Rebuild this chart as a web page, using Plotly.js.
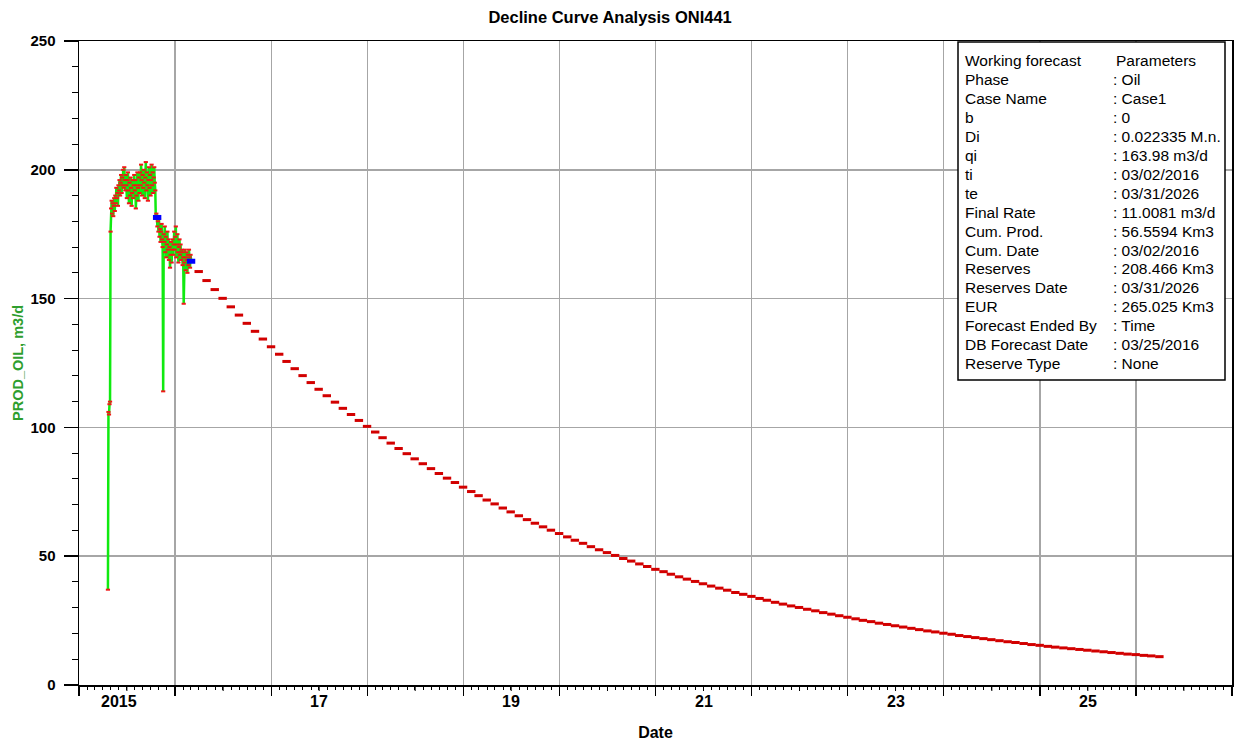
<!DOCTYPE html>
<html>
<head>
<meta charset="utf-8">
<script src="https://cdn.plot.ly/plotly-3.0.1.min.js"></script>
<style>
  html, body { margin: 0; padding: 0; background: #fff; }
  #chart { width: 1235px; height: 742px; }
</style>
</head>
<body>
<div id="chart"></div>
<script>
// ---- Historical daily production (sampled every 2 days from the first day on) ----
const histStart = '2015-04-21';
const histStepDays = 2;
const histRates = [
  37, 106, 105, 109, 110,
  176, 185, 188, 183, 187, 182, 186, 189,
  184, 190, 187, 193, 189, 191, 186, 194,
  192, 196, 190, 195, 198, 191, 197, 194, 200, 193,
  201, 196, 192, 198, 194, 189, 196, 199, 192, 187,
  195, 190, 197, 193, 186, 191, 196, 189, 194, 198,
  192, 196, 185, 190, 194, 199, 193, 188, 197, 191,
  199, 194, 202, 196, 190, 198, 193, 200, 195, 189,
  197, 203, 192, 199, 194, 188, 196, 201, 193, 198,
  190, 196, 202, 194, 199, 191, 197, 201, 195, 192,
  181, 183, 182, 178, 180, 176, 181, 174, 177, 172,
  176, 179, 173, 170,
  114,
  175, 172, 178, 168, 174, 166, 171, 176, 169, 173,
  165, 170, 162, 167, 172, 164, 169, 173, 167, 171,
  176, 169, 174, 178, 166, 171, 175, 168, 164, 170,
  173, 167, 171, 165, 169, 168, 163, 166,
  148,
  164, 169, 166, 161, 168, 165, 160, 167, 163, 169, 166, 162, 167, 165
];

// ---- Fit-range end points ----
const fitDates = ['2015-10-25', '2016-03-02'];
const fitRates = [181.5, 164.5];

// ---- Monthly forecast (month-end values, Mar 2016 .. Mar 2026) ----
const forecastFirstMonth = { year: 2016, month: 3 };
const forecastRates = [
  160.5, 157.0, 153.5, 150.1, 146.8, 143.6, 140.4, 137.3, 134.3, 131.3,
  128.4, 125.6, 122.8, 120.1, 117.4, 114.8, 112.3, 109.8, 107.4, 105.0,
  102.7, 100.4, 98.2, 96.0, 93.9, 91.8, 89.8, 87.8, 85.9, 84.0,
  82.1, 80.3, 78.6, 76.8, 75.1, 73.5, 71.8, 70.3, 68.7, 67.2,
  65.7, 64.2, 62.8, 61.4, 60.1, 58.8, 57.5, 56.2, 55.0, 53.7,
  52.5, 51.4, 50.3, 49.1, 48.1, 47.0, 46.0, 44.9, 44.0, 43.0,
  42.0, 41.1, 40.2, 39.3, 38.4, 37.6, 36.8, 35.9, 35.2, 34.4,
  33.6, 32.9, 32.1, 31.4, 30.7, 30.1, 29.4, 28.8, 28.1, 27.5,
  26.9, 26.3, 25.7, 25.1, 24.6, 24.0, 23.5, 23.0, 22.5, 22.0,
  21.5, 21.0, 20.6, 20.1, 19.7, 19.2, 18.8, 18.4, 18.0, 17.6,
  17.2, 16.8, 16.5, 16.1, 15.7, 15.4, 15.0, 14.7, 14.4, 14.1,
  13.8, 13.5, 13.2, 12.9, 12.6, 12.3, 12.0, 11.8, 11.5, 11.3,
  11.0
];

// ---- Axis labels ----
const yearLabels = ['2015', '17', '19', '21', '23', '25'];
const yearLabelYears = [2015, 2017, 2019, 2021, 2023, 2025];

// ---- Parameter panel ----
const paramLabels = [
  'Working forecast', 'Phase', 'Case Name', 'b', 'Di', 'qi', 'ti', 'te',
  'Final Rate', 'Cum. Prod.', 'Cum. Date', 'Reserves', 'Reserves Date',
  'EUR', 'Forecast Ended By', 'DB Forecast Date', 'Reserve Type'
];
const paramValues = [
  'Parameters', ': Oil', ': Case1', ': 0', ': 0.022335 M.n.', ': 163.98 m3/d',
  ': 03/02/2016', ': 03/31/2026', ': 11.0081 m3/d', ': 56.5594 Km3',
  ': 03/02/2016', ': 208.466 Km3', ': 03/31/2026', ': 265.025 Km3',
  ': Time', ': 03/25/2016', ': None'
];

const FONT = '"Liberation Sans", Arial, Helvetica, sans-serif';

function isoDay(d) { return d.toISOString().slice(0, 10); }

const histDates = histRates.map((_, i) => {
  const d = new Date(histStart + 'T00:00:00Z');
  d.setUTCDate(d.getUTCDate() + i * histStepDays);
  return isoDay(d);
});

const forecastDates = forecastRates.map((_, k) =>
  isoDay(new Date(Date.UTC(forecastFirstMonth.year, forecastFirstMonth.month + k, 0)))
);

const traces = [
  {
    type: 'scatter', mode: 'lines+markers', x: histDates, y: histRates,
    line: { color: '#10ea10', width: 2.5 },
    marker: { symbol: 'line-ew', size: 3, color: '#f01818', line: { color: '#f01818', width: 2 } },
    hoverinfo: 'x+y'
  },
  {
    type: 'scatter', mode: 'markers', x: forecastDates, y: forecastRates,
    marker: { symbol: 'line-ew', size: 6, color: '#d20000', line: { color: '#d20000', width: 3 } },
    hoverinfo: 'x+y'
  },
  {
    type: 'scatter', mode: 'markers', x: fitDates, y: fitRates,
    marker: { symbol: 'line-ew', size: 6, color: '#0000ff', line: { color: '#0000ff', width: 5 } },
    hoverinfo: 'x+y'
  }
];

// plot area in pixels
const PL = 79, PR = 1232, PT = 41, PB = 685;
const px2x = p => (p - PL) / (PR - PL);
const px2y = p => (PB - p) / (PB - PT);

const annotations = [];
yearLabels.forEach((t, i) => {
  annotations.push({
    text: t, x: yearLabelYears[i] + '-07-02', xref: 'x', y: 0, yref: 'paper',
    xanchor: 'center', yanchor: 'top', yshift: -6, xshift: t.length > 2 ? -8 : 0,
    showarrow: false,
    font: { family: FONT, size: 16, color: '#000', weight: 'bold' }
  });
});

const rowTop = 61, rowGap = 18.9;
paramLabels.forEach((t, i) => {
  const yy = px2y(rowTop + i * rowGap);
  annotations.push({
    text: t, x: px2x(963), xref: 'paper', y: yy, yref: 'paper',
    xanchor: 'left', yanchor: 'middle', showarrow: false,
    font: { family: FONT, size: 15.5, color: '#000' }
  });
  annotations.push({
    text: paramValues[i], x: px2x(i === 0 ? 1114 : 1111), xref: 'paper', y: yy, yref: 'paper',
    xanchor: 'left', yanchor: 'middle', showarrow: false,
    font: { family: FONT, size: 15.5, color: '#000' }
  });
});

const shapes = [
  {
    type: 'rect', xref: 'paper', yref: 'paper',
    x0: px2x(958), x1: px2x(1225), y0: px2y(380), y1: px2y(42),
    fillcolor: '#ffffff', line: { color: '#000', width: 1.5 }, layer: 'above'
  }
];
// half-year ticks under the date axis
for (let y = 2015; y <= 2026; y++) {
  shapes.push({
    type: 'line', xref: 'x', yref: 'paper',
    x0: y + '-07-02', x1: y + '-07-02', y0: 0, y1: -6 / (PB - PT),
    line: { color: '#000', width: 1 }
  });
}

const layout = {
  width: 1235, height: 742,
  margin: { l: PL, r: 1235 - PR, t: PT, b: 742 - PB },
  paper_bgcolor: '#ffffff', plot_bgcolor: '#ffffff',
  showlegend: false,
  font: { family: FONT, color: '#000' },
  title: {
    text: 'Decline Curve Analysis ONI441',
    font: { family: FONT, size: 16.5, color: '#000', weight: 'bold' },
    x: 0.494, xref: 'container', xanchor: 'center',
    y: 1 - 17 / 742, yref: 'container', yanchor: 'middle'
  },
  xaxis: {
    type: 'date', range: ['2015-01-01', '2027-01-01'],
    tickmode: 'linear', tick0: '2015-01-01', dtick: 'M12',
    ticks: 'outside', ticklen: 9, tickwidth: 1.5, tickcolor: '#000',
    showticklabels: false,
    showgrid: true, gridcolor: '#a6a6a6', gridwidth: 1.5,
    showline: true, linecolor: '#000', linewidth: 1.5, mirror: true,
    zeroline: false, fixedrange: true,
    minor: {
      tickmode: 'linear', tick0: '2015-01-01', dtick: 'M1',
      ticks: 'outside', ticklen: 3, tickwidth: 1, tickcolor: '#000', showgrid: false
    },
    title: { text: 'Date', font: { family: FONT, size: 16, color: '#000', weight: 'bold' }, standoff: 32 }
  },
  yaxis: {
    range: [0, 250], tickmode: 'linear', tick0: 0, dtick: 50,
    ticks: 'outside', ticklen: 14, tickwidth: 1.5, tickcolor: '#000',
    tickfont: { family: FONT, size: 15, color: '#000', weight: 'bold' },
    ticklabelstandoff: 5,
    showgrid: true, gridcolor: '#a6a6a6', gridwidth: 1.5,
    showline: true, linecolor: '#000', linewidth: 1.5, mirror: true,
    zeroline: false, fixedrange: true,
    minor: { tickmode: 'linear', tick0: 0, dtick: 10, ticks: 'outside', ticklen: 6, tickwidth: 1, tickcolor: '#000', showgrid: false },
    title: { text: 'PROD_OIL, m3/d', font: { family: FONT, size: 14.5, color: '#2e9e2e', weight: 'bold' }, standoff: 3 }
  },
  annotations: annotations,
  shapes: shapes
};

Plotly.newPlot('chart', traces, layout, { staticPlot: true, displayModeBar: false });
</script>
</body>
</html>
